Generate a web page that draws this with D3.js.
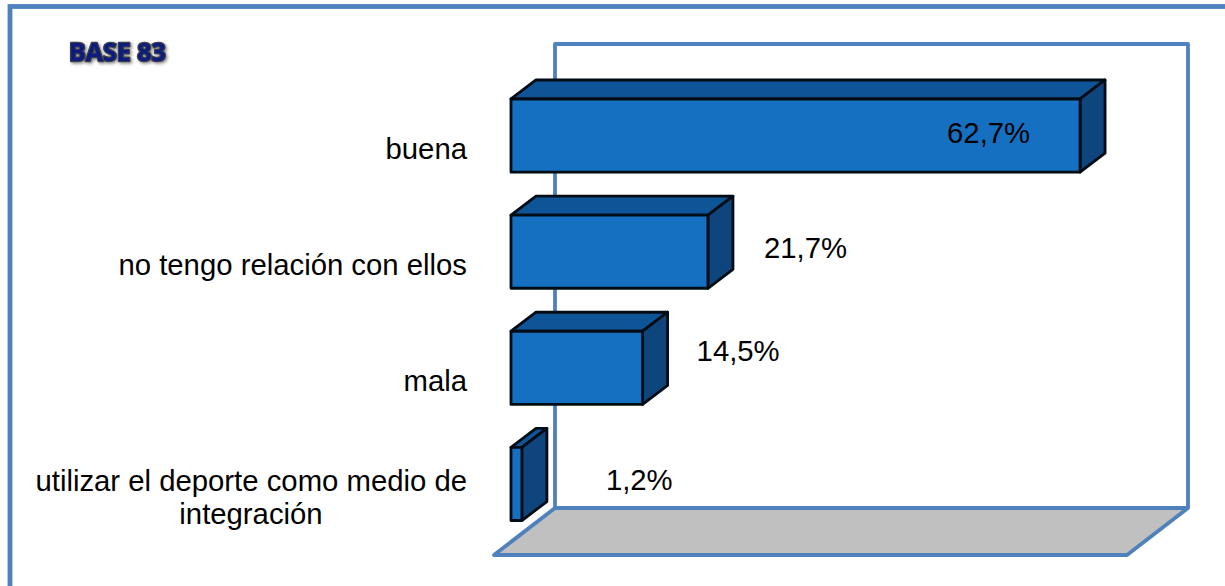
<!DOCTYPE html>
<html><head><meta charset="utf-8">
<script src="https://cdn.jsdelivr.net/npm/d3@7/dist/d3.min.js"></script>
<style>html,body{margin:0;padding:0;background:#fff;overflow:hidden}svg{display:block}</style>
</head><body><div id="chart"></div>
<script>
const categories = ["buena", "no tengo relación con ellos", "mala", "utilizar el deporte como medio de|integración"];
const values = [62.7, 21.7, 14.5, 1.2];
const valueLabels = ["62,7%", "21,7%", "14,5%", "1,2%"];
const baseLabel = "BASE 83";

const W = 1225, H = 586;
const svg = d3.select("#chart").append("svg").attr("width", W).attr("height", H);
const defs = svg.append("defs");
const sf = defs.append("filter").attr("id","soft").attr("x","-5%").attr("y","-5%").attr("width","110%").attr("height","110%");
sf.append("feGaussianBlur").attr("stdDeviation",0.55);
const ts = defs.append("filter").attr("id","tshadow").attr("x","-10%").attr("y","-30%").attr("width","125%").attr("height","170%");
ts.append("feDropShadow").attr("dx",1.5).attr("dy",1.5).attr("stdDeviation",1.4).attr("flood-color","#000").attr("flood-opacity",0.45);

const frameColor = "#4f81bd";
const font = "'Liberation Sans', Arial, sans-serif";

// Outer frame
svg.append("rect").attr("x",10).attr("y",6.5).attr("width",W+40).attr("height",H+40)
  .attr("fill","#fff").attr("stroke",frameColor).attr("stroke-width",4.8).attr("filter","url(#soft)");

// Scales
const x = d3.scaleLinear().domain([0,70]).range([511,1146.3]);
const y = d3.scaleBand().domain(categories).range([77.5,542]).paddingInner(0.37).paddingOuter(0.185);
const depth = {dx:25, dy:-19};

// Back wall and floor
const wall = {x0:555, x1:1188, y0:44, y1:508}, fd = {dx:-61, dy:47};
const g3d = svg.append("g").attr("filter","url(#soft)");
g3d.append("polygon")
  .attr("points",[[wall.x0,wall.y1],[wall.x1,wall.y1],[wall.x1+fd.dx,wall.y1+fd.dy],[wall.x0+fd.dx,wall.y1+fd.dy]].join(" "))
  .attr("fill","#c0c0c0").attr("stroke",frameColor).attr("stroke-width",3.8).attr("stroke-linejoin","round");
g3d.append("path")
  .attr("d",`M${wall.x0},${wall.y1}V${wall.y0}H${wall.x1}V${wall.y1}`)
  .attr("fill","none").attr("stroke",frameColor).attr("stroke-width",3.8).attr("stroke-linejoin","round");

// Bars
const bars = svg.append("g").attr("filter","url(#soft)").selectAll("g").data(categories).join("g");
const pts = (a)=>a.map(p=>p.join(",")).join(" ");
const st = (s)=>s.attr("stroke","#060a14").attr("stroke-width",2.8).attr("stroke-linejoin","round");
bars.each(function(c,i){
  const g = d3.select(this), l=x(0), r=x(values[i]), t=y(c), b=t+y.bandwidth();
  g.append("polygon").attr("points",pts([[l,t],[r,t],[r+depth.dx,t+depth.dy],[l+depth.dx,t+depth.dy]])).attr("fill","#0f5596").call(st);
  g.append("polygon").attr("points",pts([[r,t],[r+depth.dx,t+depth.dy],[r+depth.dx,b+depth.dy],[r,b]])).attr("fill","#0e457c").call(st);
  g.append("rect").attr("x",l).attr("y",t).attr("width",r-l).attr("height",b-t).attr("fill","#1570c2").call(st);
});

// Category labels
const catFont = 29.3;
const catG = svg.append("g").attr("font-family",font).attr("font-size",catFont).attr("fill","#000");
const catDy = [23, 23.5, 23, 7];
categories.forEach((c,i)=>{
  const lines = c.split("|");
  const base = y(c) + y.bandwidth()/2 + catDy[i];
  if(lines.length===1){
    catG.append("text").attr("x",467).attr("y",base).attr("text-anchor","end").text(lines[0]);
  } else {
    catG.append("text").attr("x",467).attr("y",base).attr("text-anchor","end").text(lines[0]);
    catG.append("text").attr("x",251).attr("y",base+33.5).attr("text-anchor","middle").text(lines[1]);
  }
});

// Value labels
const valOffset = [[-133,7],[56,6],[54,-7],[84,6]];
const valG = svg.append("g").attr("font-family",font).attr("font-size",29.3).attr("fill","#000");
values.forEach((v,i)=>{
  valG.append("text").attr("x",x(v)+valOffset[i][0]).attr("y",y(categories[i])+y.bandwidth()/2+valOffset[i][1]).text(valueLabels[i]);
});

// BASE label
svg.append("text").attr("x",69).attr("y",60.5).attr("font-family","'Open Sans', 'Noto Sans', sans-serif").attr("font-weight",700).attr("font-size",25)
  .attr("letter-spacing",0)
  .attr("fill","#0a1a80").attr("stroke","#3f4048").attr("stroke-width",2.6).attr("paint-order","stroke").attr("stroke-linejoin","round")
  .attr("filter","url(#tshadow)").text(baseLabel);
</script></body></html>
